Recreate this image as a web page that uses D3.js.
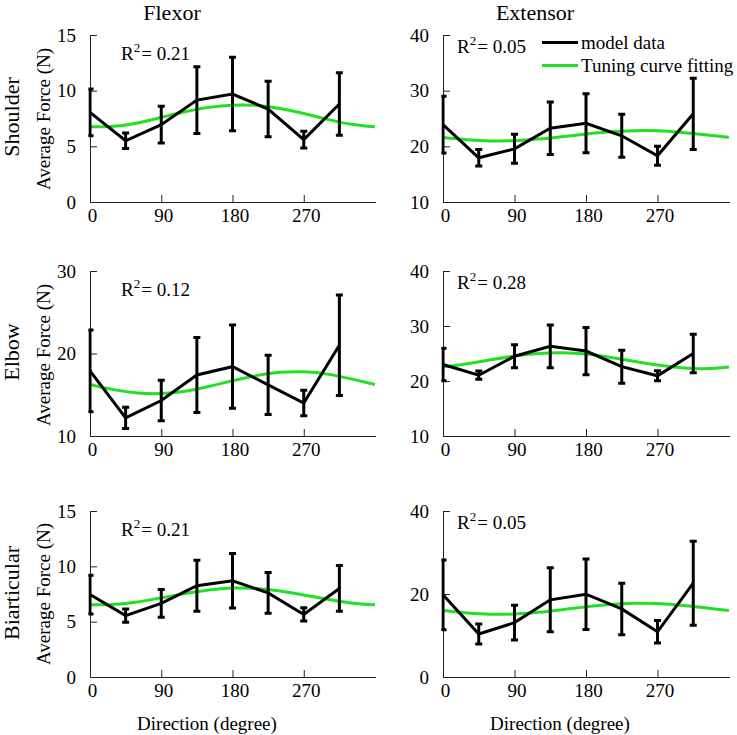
<!DOCTYPE html>
<html>
<head>
<meta charset="utf-8">
<script src="https://cdn.jsdelivr.net/npm/d3@7"></script>
<style>
  html, body { margin: 0; padding: 0; background: #fff; }
</style>
</head>
<body>
<svg id="chart" width="737" height="735"></svg>
<script>
// ---- data ----
const directions = [0, 45, 90, 135, 180, 225, 270, 315];
const fitAngles = [0, 30, 60, 90, 120, 150, 180, 210, 240, 270, 300, 330, 360];
const xTicks = [0, 90, 180, 270];

const columnTitles = ["Flexor", "Extensor"];
const rowTitles = ["Shoulder", "Elbow", "Biarticular"];
const legendLabels = ["model data", "Tuning curve fitting"];
const yLabel = "Average Force (N)";
const xLabel = "Direction (degree)";

// Shoulder – Flexor
const shoulderFlexorMean = [8.05, 5.5, 6.95, 9.15, 9.7, 8.35, 5.6, 8.8];
const shoulderFlexorErr  = [2.1, 0.7, 1.65, 3.0, 3.3, 2.5, 0.75, 2.8];
const shoulderFlexorFit  = [6.75, 6.8, 7.1, 7.6, 8.1, 8.5, 8.7, 8.68, 8.4, 7.95, 7.42, 6.98, 6.75];
const shoulderFlexorTicks = [0, 5, 10, 15];
const shoulderFlexorR2 = "0.21";

// Shoulder – Extensor
const shoulderExtensorMean = [23.9, 17.95, 19.55, 23.25, 24.15, 21.9, 18.3, 25.85];
const shoulderExtensorErr  = [5.1, 1.5, 2.6, 4.7, 5.3, 3.85, 1.7, 6.4];
const shoulderExtensorFit  = [21.6, 21.2, 20.98, 21.02, 21.3, 21.73, 22.2, 22.6, 22.82, 22.78, 22.5, 22.08, 21.6];
const shoulderExtensorTicks = [10, 20, 30, 40];
const shoulderExtensorR2 = "0.05";

// Elbow – Flexor
const elbowFlexorMean = [17.9, 12.2, 14.3, 17.4, 18.4, 16.2, 14.0, 21.0];
const elbowFlexorErr  = [4.95, 1.3, 2.45, 4.55, 5.05, 3.6, 1.55, 6.1];
const elbowFlexorFit  = [16.25, 15.62, 15.22, 15.15, 15.43, 16.0, 16.7, 17.32, 17.72, 17.78, 17.5, 16.92, 16.25];
const elbowFlexorTicks = [10, 20, 30];
const elbowFlexorR2 = "0.12";

// Elbow – Extensor
const elbowExtensorMean = [23.0, 21.05, 24.5, 26.3, 25.45, 22.6, 20.95, 25.0];
const elbowExtensorErr  = [2.95, 0.75, 2.1, 3.9, 4.3, 3.0, 0.9, 3.5];
const elbowExtensorFit  = [22.55, 23.12, 23.85, 24.55, 25.02, 25.15, 24.9, 24.32, 23.6, 22.9, 22.4, 22.25, 22.55];
const elbowExtensorTicks = [10, 20, 30, 40];
const elbowExtensorR2 = "0.28";

// Biarticular – Flexor
const biarticularFlexorMean = [7.45, 5.55, 6.65, 8.25, 8.7, 7.6, 5.65, 8.0];
const biarticularFlexorErr  = [1.75, 0.6, 1.25, 2.3, 2.47, 1.85, 0.6, 2.07];
const biarticularFlexorFit  = [6.52, 6.56, 6.78, 7.15, 7.54, 7.87, 8.04, 8.0, 7.78, 7.41, 7.02, 6.69, 6.52];
const biarticularFlexorTicks = [0, 5, 10, 15];
const biarticularFlexorR2 = "0.21";

// Biarticular – Extensor
const biarticularExtensorMean = [19.8, 10.35, 13.1, 18.6, 19.95, 16.4, 10.9, 22.6];
const biarticularExtensorErr  = [8.4, 2.4, 4.2, 7.7, 8.5, 6.2, 2.7, 10.1];
const biarticularExtensorFit  = [16.0, 15.43, 15.14, 15.2, 15.59, 16.22, 16.9, 17.47, 17.76, 17.7, 17.31, 16.68, 16.0];
const biarticularExtensorTicks = [0, 20, 40];
const biarticularExtensorR2 = "0.05";

// ---- table built from arrays ----
const panels = [
  {row: 0, col: 0, mean: shoulderFlexorMean, err: shoulderFlexorErr, fit: shoulderFlexorFit, ticks: shoulderFlexorTicks, r2: shoulderFlexorR2},
  {row: 0, col: 1, mean: shoulderExtensorMean, err: shoulderExtensorErr, fit: shoulderExtensorFit, ticks: shoulderExtensorTicks, r2: shoulderExtensorR2},
  {row: 1, col: 0, mean: elbowFlexorMean, err: elbowFlexorErr, fit: elbowFlexorFit, ticks: elbowFlexorTicks, r2: elbowFlexorR2},
  {row: 1, col: 1, mean: elbowExtensorMean, err: elbowExtensorErr, fit: elbowExtensorFit, ticks: elbowExtensorTicks, r2: elbowExtensorR2},
  {row: 2, col: 0, mean: biarticularFlexorMean, err: biarticularFlexorErr, fit: biarticularFlexorFit, ticks: biarticularFlexorTicks, r2: biarticularFlexorR2},
  {row: 2, col: 1, mean: biarticularExtensorMean, err: biarticularExtensorErr, fit: biarticularExtensorFit, ticks: biarticularExtensorTicks, r2: biarticularExtensorR2}
];

// ---- layout ----
const colX = [[90, 375], [443, 729]];
const rowY = [[202, 35], [436, 271], [677, 511]];
const GREEN = "#22e022";
const FS = 19;
const FONT = '"Liberation Serif", "Times New Roman", "DejaVu Serif", serif';

const svg = d3.select("#chart").attr("font-family", FONT);
const defs = svg.append("defs");

panels.forEach((p, i) => {
  const x = d3.scaleLinear().domain([0, 360]).range(colX[p.col]);
  const y = d3.scaleLinear().domain([p.ticks[0], p.ticks[p.ticks.length - 1]]).range(rowY[p.row]);
  const g = svg.append("g");

  defs.append("clipPath").attr("id", "clip" + i)
    .append("rect")
    .attr("x", colX[p.col][0] - 1.6).attr("y", 0)
    .attr("width", colX[p.col][1] - colX[p.col][0] + 2).attr("height", 735);

  const xAxis = d3.axisBottom(x).tickValues(xTicks).tickSizeInner(-7).tickSizeOuter(0).tickPadding(6)
    .tickFormat(d3.format("d"));
  const gx = g.append("g").attr("transform", `translate(0,${rowY[p.row][0]})`).call(xAxis);
  gx.selectAll(".tick").filter(d => d === 0).select("line").remove();
  gx.selectAll("text").attr("font-size", FS).attr("dx", 2).attr("dy", "0.72em");

  const yAxis = d3.axisLeft(y).tickValues(p.ticks).tickSizeInner(-7).tickSizeOuter(0).tickPadding(14)
    .tickFormat(d3.format("d"));
  const gy = g.append("g").attr("transform", `translate(${colX[p.col][0]},0)`).call(yAxis);
  gy.selectAll("text").attr("font-size", FS);
  g.selectAll(".domain, .tick line").attr("stroke", "#222").attr("stroke-width", 1);
  g.selectAll(".domain").attr("shape-rendering", "crispEdges");

  const plot = g.append("g").attr("clip-path", `url(#clip${i})`);

  const fitLine = d3.line().x((d, j) => x(fitAngles[j])).y(d => y(d)).curve(d3.curveNatural);
  plot.append("path").datum(p.fit).attr("d", fitLine)
    .attr("fill", "none").attr("stroke", GREEN).attr("stroke-width", 3);

  const eb = plot.append("g").attr("stroke", "#000").attr("stroke-width", 3);
  directions.forEach((dir, j) => {
    const cx = x(dir), hi = y(p.mean[j] + p.err[j]), lo = y(p.mean[j] - p.err[j]);
    eb.append("line").attr("x1", cx).attr("x2", cx).attr("y1", hi).attr("y2", lo);
    eb.append("line").attr("x1", cx - 3.5).attr("x2", cx + 3.5).attr("y1", hi).attr("y2", hi);
    eb.append("line").attr("x1", cx - 3.5).attr("x2", cx + 3.5).attr("y1", lo).attr("y2", lo);
  });

  const meanLine = d3.line().x((d, j) => x(directions[j])).y(d => y(d));
  plot.append("path").datum(p.mean).attr("d", meanLine)
    .attr("fill", "none").attr("stroke", "#000").attr("stroke-width", 3).attr("stroke-linejoin", "miter");

  const rx = colX[p.col][0] + (p.col === 0 ? 31 : 14);
  const ry = rowY[p.row][1] + (p.col === 0 ? 25 : 18);
  const t = g.append("text").attr("x", rx).attr("y", ry).attr("font-size", FS);
  t.append("tspan").text("R");
  t.append("tspan").attr("font-size", 13).attr("dy", -8).text("2");
  t.append("tspan").attr("dy", 8).attr("dx", 1).text("= " + p.r2);
});

svg.append("text").attr("x", 172).attr("y", 20).attr("text-anchor", "middle").attr("font-size", 22).text(columnTitles[0]);
svg.append("text").attr("x", 535).attr("y", 20).attr("text-anchor", "middle").attr("font-size", 22).text(columnTitles[1]);

const rowCenters = [117, 352, 593];
const yLabelCenters = [119, 355, 594];
rowTitles.forEach((r, i) => {
  svg.append("text").attr("transform", `translate(19,${rowCenters[i]}) rotate(-90)`)
    .attr("text-anchor", "middle").attr("font-size", 22).text(r);
  svg.append("text").attr("transform", `translate(50,${yLabelCenters[i]}) rotate(-90)`)
    .attr("text-anchor", "middle").attr("font-size", FS).text(yLabel);
});

svg.append("text").attr("x", 207).attr("y", 730).attr("text-anchor", "middle").attr("font-size", FS).text(xLabel);
svg.append("text").attr("x", 560).attr("y", 730).attr("text-anchor", "middle").attr("font-size", FS).text(xLabel);

const lg = svg.append("g");
lg.append("line").attr("x1", 542).attr("x2", 578).attr("y1", 42.5).attr("y2", 42.5).attr("stroke", "#000").attr("stroke-width", 3);
lg.append("text").attr("x", 581).attr("y", 49).attr("font-size", FS).text(legendLabels[0]);
lg.append("line").attr("x1", 542).attr("x2", 578).attr("y1", 65.5).attr("y2", 65.5).attr("stroke", GREEN).attr("stroke-width", 3);
lg.append("text").attr("x", 581).attr("y", 72).attr("font-size", FS).text(legendLabels[1]);

// apply serif font to every text (axes default to sans-serif)
svg.selectAll("text").attr("font-family", FONT).attr("fill", "#000");
</script>
</body>
</html>
